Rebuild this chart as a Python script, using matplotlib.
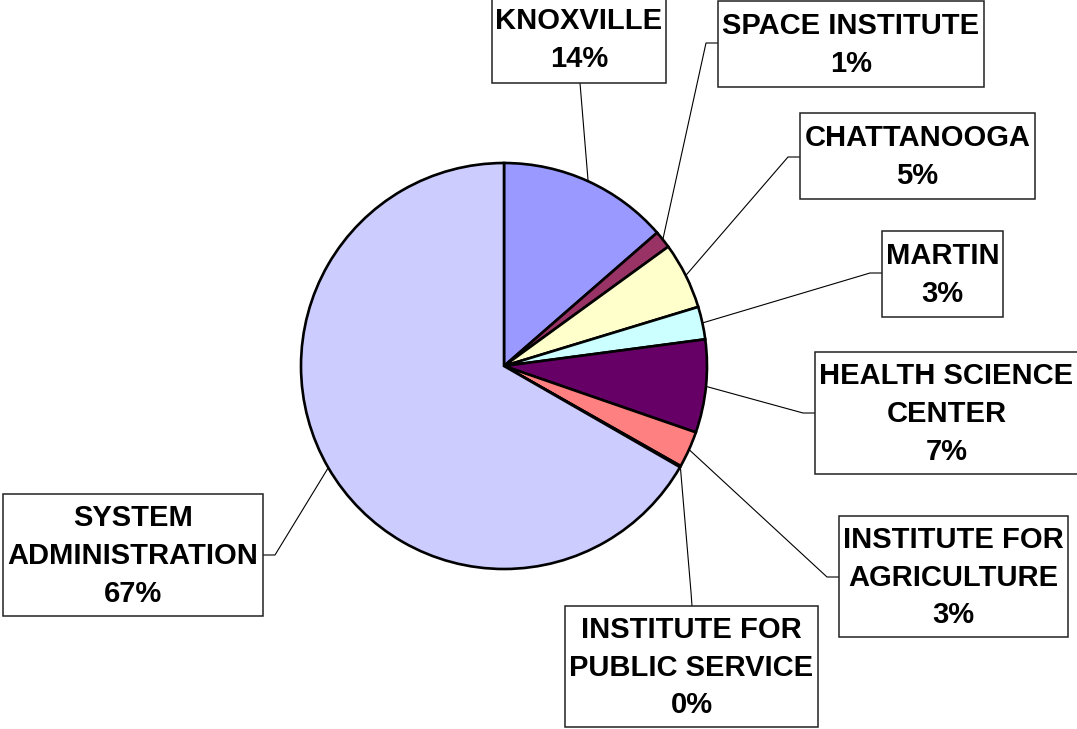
import numpy as np
import matplotlib
matplotlib.use("Agg")
import matplotlib.pyplot as plt
from matplotlib.patches import Rectangle

# campus share of the budget, clockwise from 12 o'clock
campuses = ["KNOXVILLE", "SPACE INSTITUTE", "CHATTANOOGA", "MARTIN",
            "HEALTH SCIENCE\nCENTER", "INSTITUTE FOR\nAGRICULTURE",
            "INSTITUTE FOR\nPUBLIC SERVICE", "SYSTEM\nADMINISTRATION"]
shares = [13.6, 1.4, 5.3, 2.6, 7.4, 2.9, 0.1, 66.7]
colors = ["#9999FF", "#993366", "#FFFFCC", "#CCFFFF",
          "#660066", "#FF8080", "#0066CC", "#CCCCFF"]

W, H = 1077, 729
def Y(y):
    # layout is measured from the top of the picture
    return H - y

# label boxes (left, top, right, bottom) and leader elbows, in pixels
boxes = [(492, -5, 666, 83), (718, 1, 984, 87), (800, 113, 1035, 199),
         (882, 231, 1003, 317), (815, 352, 1078, 474), (839, 516, 1068, 637),
         (565, 606, 818, 727), (3, 494, 263, 616)]
elbows = [[(580, 83)],
          [(718, 43), (706, 43)],
          [(800, 157), (788, 157)],
          [(882, 273), (870, 273)],
          [(815, 413), (803, 413)],
          [(839, 577), (827, 577)],
          [(692, 606), (691, 592)],
          [(263, 555), (275, 555)]]

cx, cy, r = 504, 366, 203

fig = plt.figure(figsize=(W / 100, H / 100), dpi=100)
ax = fig.add_axes([0, 0, 1, 1])
wedges, _ = ax.pie(shares, colors=colors, startangle=90, counterclock=False,
                   center=(cx, Y(cy)), radius=r,
                   wedgeprops=dict(edgecolor="black", linewidth=1.9))
ax.set_xlim(0, W)
ax.set_ylim(0, H)
ax.set_aspect("equal")
ax.axis("off")

total = sum(shares)
for w, name, v, box, elb in zip(wedges, campuses, shares, boxes, elbows):
    l, t, rr, b = box
    ax.add_patch(Rectangle((l, Y(b)), rr - l, b - t, facecolor="white",
                           edgecolor="#222222", linewidth=1.1, zorder=3))
    ax.text((l + rr) / 2, Y((t + b) / 2) - 1, f"{name}\n{v / total * 100:.0f}%",
            ha="center", va="center", fontsize=21, fontweight="bold",
            family=["Liberation Sans", "DejaVu Sans"], linespacing=1.45,
            zorder=4)
    mid = np.deg2rad((w.theta1 + w.theta2) / 2)
    px, py = cx + r * np.cos(mid), Y(cy) + r * np.sin(mid)
    xs = [p[0] for p in elb] + [px]
    ys = [Y(p[1]) for p in elb] + [py]
    ax.plot(xs, ys, color="black", linewidth=0.8, zorder=1)

fig.savefig("out.png", dpi=100, facecolor="white")
